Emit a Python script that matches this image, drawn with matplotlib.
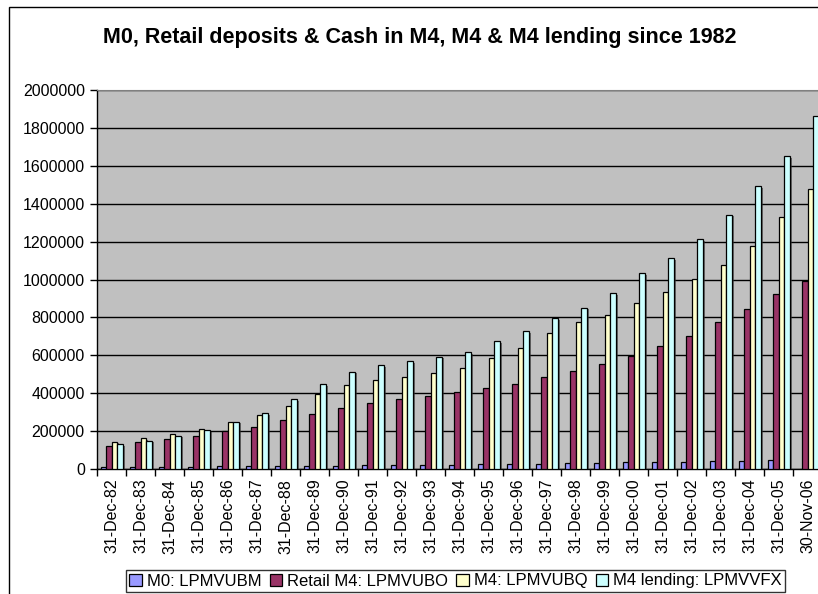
import numpy as np
import matplotlib
matplotlib.use('Agg')
import matplotlib.pyplot as plt
import matplotlib.patheffects as pe
from matplotlib.patches import Rectangle

plt.rcParams['font.family'] = ['Liberation Sans', 'DejaVu Sans']

dates = ['31-Dec-82', '31-Dec-83', '31-Dec-84', '31-Dec-85', '31-Dec-86', '31-Dec-87',
         '31-Dec-88', '31-Dec-89', '31-Dec-90', '31-Dec-91', '31-Dec-92', '31-Dec-93',
         '31-Dec-94', '31-Dec-95', '31-Dec-96', '31-Dec-97', '31-Dec-98', '31-Dec-99',
         '31-Dec-00', '31-Dec-01', '31-Dec-02', '31-Dec-03', '31-Dec-04', '31-Dec-05',
         '30-Nov-06']
m0 = [12000, 12000, 11000, 12000, 18000, 18000, 18000, 18000, 18000, 21000, 21000, 21000,
      21000, 26000, 26000, 26000, 31000, 31000, 35000, 35000, 39000, 44000, 44000, 49000,
      np.nan]
retail_m4 = [123000, 141000, 159000, 176000, 199000, 220000, 261000, 292000, 323000, 350000,
             367000, 385000, 404000, 429000, 450000, 486000, 516000, 555000, 596000, 649000,
             702000, 776000, 843000, 922000, 991000]
m4 = [144000, 162000, 185000, 211000, 247000, 287000, 335000, 396000, 445000, 468000,
      487000, 509000, 535000, 588000, 641000, 720000, 776000, 813000, 878000, 936000,
      1001000, 1077000, 1179000, 1329000, 1479000]
m4_lending = [132000, 150000, 176000, 206000, 250000, 294000, 370000, 449000, 514000, 549000,
              570000, 592000, 618000, 675000, 729000, 795000, 852000, 927000, 1033000, 1112000,
              1213000, 1342000, 1492000, 1650000, 1862000]
names = ['M0: LPMVUBM', 'Retail M4: LPMVUBO', 'M4: LPMVUBQ', 'M4 lending: LPMVVFX']
colors = ['#9999FF', '#993366', '#FFFFCC', '#CCFFFF']

fig = plt.figure(figsize=(8.18, 5.94), dpi=100)
# chart frame (extends past the right/bottom edge)
fig.patches.append(Rectangle((8.5/818, -0.2), 2, 1 - 7.5/594 + 0.2, transform=fig.transFigure,
                             fill=False, edgecolor='black', lw=1, clip_on=False))

ax = fig.add_axes([97.3/818, 125/594, 725/818, 379/594])
ax.set_facecolor('#C0C0C0')

x = np.arange(len(dates))
w = 0.185
shadow = [pe.SimplePatchShadow(offset=(1.6, -1.2), shadow_rgbFace='#303030', alpha=0.6), pe.Normal()]
for i, (vals, c, n) in enumerate(zip([m0, retail_m4, m4, m4_lending], colors, names)):
    bars = ax.bar(x + (i - 1.5) * w, vals, w, color=c, edgecolor='black', linewidth=0.9,
                  label=n, zorder=3)
    for b in bars:
        b.set_path_effects(shadow)

ax.set_xlim(-0.5, len(dates) - 0.5)
ax.set_ylim(0, 2000000)
ax.set_yticks(np.arange(0, 2000001, 200000))
ax.set_yticklabels([str(v) for v in range(0, 2000001, 200000)])
ax.yaxis.grid(True, color='black', lw=1)
ax.set_axisbelow(True)

ax.set_xticks(x)
ax.set_xticklabels(dates, rotation=90)
ax.set_xticks(np.arange(-0.5, len(dates)), minor=True)
ax.tick_params(axis='x', which='major', length=0, pad=7, labelsize=11.5)
ax.tick_params(axis='x', which='minor', length=5, width=1, direction='out')
ax.tick_params(axis='y', length=5, width=1, direction='out', pad=4, labelsize=11.5)

for s in ['left', 'bottom']:
    ax.spines[s].set_color('black')
    ax.spines[s].set_linewidth(1)
ax.spines['top'].set_color('#808080')
ax.spines['right'].set_visible(False)

fig.text(420/818, 1 - 37/594, 'M0, Retail deposits & Cash in M4, M4 & M4 lending since 1982',
         ha='center', va='center', fontsize=15.5, fontweight='bold')

leg = fig.legend(loc='center', bbox_to_anchor=(455.5/818, 1 - 581/594), ncol=4,
                 fontsize=12, frameon=True, fancybox=False, edgecolor='black',
                 handlelength=0.75, handleheight=0.75, handletextpad=0.3,
                 columnspacing=0.5, borderpad=0.2, borderaxespad=0)
leg.get_frame().set_linewidth(1)
for h in leg.legend_handles:
    h.set_path_effects([])

fig.savefig('out.png', dpi=100)
